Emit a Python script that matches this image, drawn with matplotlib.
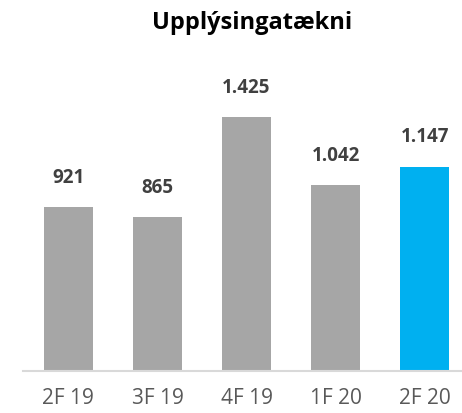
import matplotlib
matplotlib.use("Agg")
import matplotlib.pyplot as plt

categories = ["2F 19", "3F 19", "4F 19", "1F 20", "2F 20"]
values = [921, 865, 1425, 1042, 1147]
labels = ["921", "865", "1.425", "1.042", "1.147"]
colors = ["#A6A6A6", "#A6A6A6", "#A6A6A6", "#A6A6A6", "#00B0F0"]

plt.rcParams['font.family'] = ['Open Sans', 'DejaVu Sans']

fig = plt.figure(figsize=(4.62, 4.13), dpi=100)
ax = fig.add_axes([23/462, 42/413, (462-23)/462, 285/413])
x = list(range(len(categories)))
ax.bar(x, values, width=0.55, color=colors)
ax.set_xlim(-0.51, 4.42)
ax.set_ylim(0, 1600)
for xi, v, lab in zip(x, values, labels):
    ax.text(xi, v + 165, lab, ha='center', va='center', fontsize=13.5,
            fontweight='bold', color='#404040', clip_on=False)
for s in ['top', 'right', 'left']:
    ax.spines[s].set_visible(False)
ax.spines['bottom'].set_color('#D9D9D9')
ax.spines['bottom'].set_linewidth(1.5)
ax.set_yticks([])
ax.set_xticks(x)
ax.set_xticklabels(categories, fontsize=15, color='#595959')
ax.tick_params(axis='x', length=0, pad=12)
fig.text(0.545, 0.945, "Upplýsingatækni", ha='center', va='center',
         fontsize=17, fontweight='bold', color='#000000')
fig.savefig("out.png", dpi=100)
